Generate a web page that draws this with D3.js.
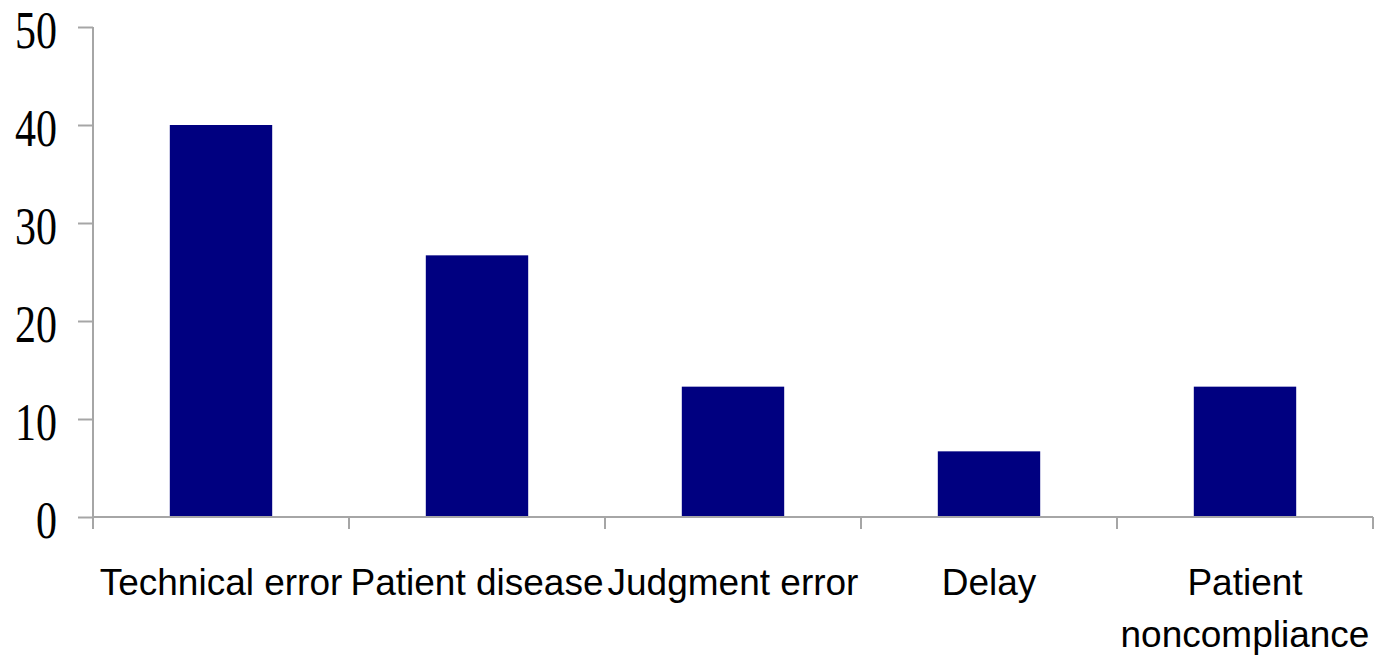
<!DOCTYPE html>
<html>
  <head>
    <title>Error categories</title>
    <script src="https://d3js.org/d3.v7.min.js"></script>
    <style>
      body, html {
        margin: 0;
        width: 100%;
        height: 100%;
        overflow: hidden;
        background: #fff;
      }
      .axisLine {
        stroke: #a6a6a6;
        stroke-width: 2px;
      }
      .yLabel {
        font-family: 'Liberation Serif', serif;
        font-size: 52px;
        fill: #000;
      }
      .xLabel {
        font-family: 'Liberation Sans', Arial, sans-serif;
        font-size: 37px;
        fill: #000;
      }
    </style>
  </head>
  <body>
    <svg id="chart" width="1377" height="655"></svg>
    <script>
      const categories = ["Technical error", "Patient disease", "Judgment error", "Delay", "Patient noncompliance"];
      const labelLines = [["Technical error"], ["Patient disease"], ["Judgment error"], ["Delay"], ["Patient", "noncompliance"]];
      const values = [40, 26.7, 13.3, 6.7, 13.3];
      const yTicks = [0, 10, 20, 30, 40, 50];

      const svg = d3.select("#chart");
      const margin = {top: 27, right: 4, bottom: 138, left: 93};
      const width = 1377 - margin.left - margin.right;
      const height = 655 - margin.top - margin.bottom;

      const g = svg.append("g").attr("transform", `translate(${margin.left},${margin.top})`);

      const x = d3.scaleBand()
        .domain(categories)
        .range([0, width])
        .paddingInner(0.6)
        .paddingOuter(0.3);

      const y = d3.scaleLinear()
        .domain([0, 50])
        .range([height, 0]);

      // bars
      g.selectAll("rect.bar")
        .data(values)
        .enter()
        .append("rect")
        .attr("class", "bar")
        .attr("x", (d, i) => x(categories[i]))
        .attr("y", d => y(d))
        .attr("width", x.bandwidth())
        .attr("height", d => y(0) - y(d))
        .attr("fill", "#000080");

      // y axis
      const yAxis = g.append("g")
        .call(d3.axisLeft(y).tickValues(yTicks).tickSize(15).tickPadding(21).tickFormat(d3.format("d")));
      yAxis.select(".domain").remove();
      yAxis.attr("font-family", null).attr("font-size", null);
      yAxis.selectAll(".tick line").attr("class", "axisLine");
      yAxis.selectAll(".tick text")
        .attr("class", "yLabel")
        .attr("dy", "0.4em")
        .attr("textLength", d => String(d).length * 21)
        .attr("lengthAdjust", "spacingAndGlyphs");
      g.append("line")
        .attr("class", "axisLine")
        .attr("x1", 0).attr("x2", 0)
        .attr("y1", y(50)).attr("y2", y(0) + 12);

      // x axis
      g.append("line")
        .attr("class", "axisLine")
        .attr("x1", 0).attr("x2", width)
        .attr("y1", y(0)).attr("y2", y(0));
      const bounds = categories.map(c => x(c) - x.step() * x.paddingOuter()).concat([width]);
      g.selectAll("line.xtick")
        .data(bounds)
        .enter()
        .append("line")
        .attr("class", "axisLine")
        .attr("x1", d => d).attr("x2", d => d)
        .attr("y1", y(0)).attr("y2", y(0) + 12);

      const labels = g.selectAll("text.xLabel")
        .data(labelLines)
        .enter()
        .append("text")
        .attr("class", "xLabel")
        .attr("text-anchor", "middle")
        .attr("x", (d, i) => x(categories[i]) + x.bandwidth() / 2)
        .attr("y", y(0) + 78);
      labels.selectAll("tspan")
        .data(d => d)
        .enter()
        .append("tspan")
        .attr("x", function() { return d3.select(this.parentNode).attr("x"); })
        .attr("dy", (d, i) => i === 0 ? 0 : 52)
        .text(d => d);
    </script>
  </body>
</html>
